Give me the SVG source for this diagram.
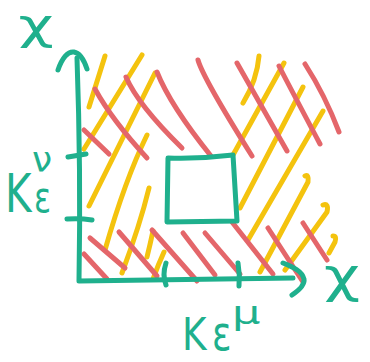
<svg xmlns="http://www.w3.org/2000/svg" width="370" height="362" viewBox="0 0 370 362">
<style>
.g{fill:none;stroke:#1fb08d;stroke-width:5;stroke-linecap:round;stroke-linejoin:round}
.y{fill:none;stroke:#f4c30e;stroke-width:5;stroke-linecap:round;stroke-linejoin:round}
.r{fill:none;stroke:#e4666a;stroke-width:5;stroke-linecap:round;stroke-linejoin:round}
.t{fill:#1fb08d;font-family:"DejaVu Sans",sans-serif}
</style>
<rect width="370" height="362" fill="#ffffff"/>
<g id="hatch-yellow">
<path class="y" d="M105,56 L89,107"/>
<path class="y" d="M142,55 L84,149"/>
<path class="y" d="M155,73 L89,206"/>
<path class="y" d="M147,135 Q125,180 105,250"/>
<path class="y" d="M149,188 Q140,225 122,273"/>
<path class="y" d="M153,231 Q150,245 147,257"/>
<path class="y" d="M164,252 Q158,265 153,279"/>
<path class="y" d="M259,56 Q257,80 243,103"/>
<path class="y" d="M284,63 L233,155"/>
<path class="y" d="M303,87 L240,208"/>
<path class="y" d="M323,111 L248,240"/>
<path class="y" d="M305,176 Q309,174 308,182 L260,272"/>
<path class="y" d="M323,205 Q329,203 327,212 L285,270"/>
<path class="y" d="M333,236 Q337,236 335,242 L329,253"/>
</g>
<g id="hatch-red">
<path class="r" d="M84,130 L109,154"/>
<path class="r" d="M95,89 Q112,120 147,158"/>
<path class="r" d="M126,77 Q138,105 182,148"/>
<path class="r" d="M157,72 Q170,105 211,156"/>
<path class="r" d="M198,60 Q203,78 252,156"/>
<path class="r" d="M237,63 L287,151"/>
<path class="r" d="M279,66 Q285,78 320,144"/>
<path class="r" d="M305,64 Q325,95 339,132"/>
<path class="r" d="M90,238 L125,268"/>
<path class="r" d="M84,254 L107,279"/>
<path class="r" d="M119,232 L157,276"/>
<path class="r" d="M152,230 L197,281"/>
<path class="r" d="M183,233 L215,275"/>
<path class="r" d="M205,233 L240,274"/>
<path class="r" d="M232,222 L273,274"/>
<path class="r" d="M268,228 L303,282"/>
<path class="r" d="M303,223 L327,260"/>
</g>
<g id="axes">
<path class="g" d="M77,58 Q81,170 79,281 L293,278"/>
<path class="g" d="M58,70 C62,58 68,51 74,52 C80,53 84,60 87,69"/>
<path class="g" d="M283,263 C293,267 302,271 304,279 C305,285 298,291 292,295"/>
<path class="g" d="M68,157 L86,154"/>
<path class="g" d="M67,219 Q80,218 92,220"/>
<path class="g" d="M166,263 Q162,275 166,285"/>
<path class="g" d="M238,263 Q240,275 239,286"/>
</g>
<g id="square">
<path class="g" d="M168,158 Q200,159 233,155 L237,221 L167,222 Z"/>
</g>
<g id="label-chi-y">
<text class="t" font-size="42" text-anchor="middle" transform="translate(36,39) scale(1.45,1)">χ</text>
</g>
<g id="label-chi-x">
<text class="t" font-size="48" text-anchor="middle" transform="translate(342,292) scale(1.3,1)">χ</text>
</g>
<g id="label-K-nu">
<text class="t" font-size="54" transform="translate(5,212) scale(0.75,1)">K</text>
<text class="t" font-size="42" transform="translate(34,212) scale(0.75,1)">ε</text>
<text class="t" font-size="36" transform="translate(32,172)">ν</text>
</g>
<g id="label-K-mu">
<text class="t" font-size="44" transform="translate(182,350) scale(0.85,1)">K</text>
<text class="t" font-size="48" transform="translate(212,350) scale(0.75,1)">ε</text>
<text class="t" font-size="32" transform="translate(232,324) scale(1.4,1)">μ</text>
</g>
</svg>
